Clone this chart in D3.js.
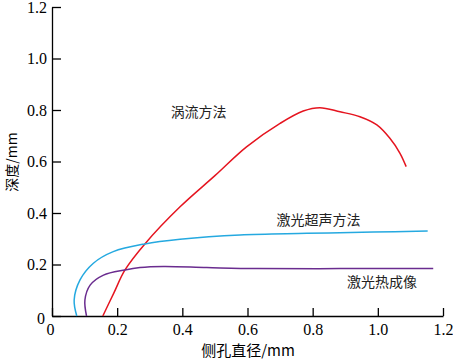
<html>
<head>
    <script src="https://d3js.org/d3.v7.min.js"></script>
</head>
<body style="margin:0">
    <svg id="chart" width="453" height="363"></svg>
</body>
<script>
    // curve points: [diameter, depth]
    const eddy = [[0.156,0],[0.19,0.09],[0.224,0.179],[0.285,0.28],[0.393,0.424],
                  [0.5,0.545],[0.597,0.657],[0.70,0.748],[0.771,0.796],[0.822,0.809],
                  [0.884,0.793],[0.945,0.774],[0.997,0.742],[1.037,0.69],[1.068,0.632],[1.087,0.58]]
    const ultrasonic = [[0.076,0],[0.068,0.062],[0.086,0.14],[0.127,0.205],[0.188,0.25],
                        [0.285,0.28],[0.393,0.298],[0.577,0.315],[0.782,0.321],[0.986,0.326],[1.153,0.330]]
    const thermal = [[0.106,0],[0.101,0.062],[0.117,0.12],[0.158,0.159],[0.224,0.179],
                     [0.27,0.188],[0.342,0.192],[0.475,0.188],[0.628,0.184],[0.884,0.184],[1.17,0.184]]
    const xTicks = [0,0.2,0.4,0.6,0.8,1.0,1.2]
    const yTicks = [0,0.2,0.4,0.6,0.8,1.0,1.2]
    const seriesNames = ['涡流方法','激光超声方法','激光热成像']

    const serif = "'Liberation Serif', 'DejaVu Serif', serif"
    const cjk = "'Noto Sans CJK SC', sans-serif"

    let svg = d3.select('svg#chart')

    let x = d3.scaleLinear().domain([0,1.2]).range([52, 443])
    let y = d3.scaleLinear().domain([0,1.2]).range([316, 7])

    const fmt = d => d === 0 ? '0' : d3.format('.1f')(d)

    let xaxis = svg.append('g')
        .attr('transform', `translate(0,${y(0)})`)
        .call(d3.axisBottom(x).tickValues(xTicks).tickFormat(fmt).tickSizeInner(-8).tickSizeOuter(0).tickPadding(8))
    let yaxis = svg.append('g')
        .attr('transform', `translate(${x(0)},0)`)
        .call(d3.axisLeft(y).tickValues(yTicks).tickFormat(fmt).tickSizeInner(-9).tickSizeOuter(0).tickPadding(5))

    svg.selectAll('g').attr('font-family', serif)
    svg.selectAll('.domain, .tick line').attr('stroke','black').attr('stroke-width',1.3)
    svg.selectAll('.tick text')
        .style('font-family', serif)
        .attr('font-size','16px')
        .attr('fill','black')
    xaxis.selectAll('.tick text').filter(d => d === 0).attr('dx', -2)
    yaxis.selectAll('.tick text').filter(d => d === 0).attr('dx', -2).attr('dy', '0.45em')

    let line = d3.line().x(d => x(d[0])).y(d => y(d[1])).curve(d3.curveCatmullRom.alpha(0.5))

    const series = [
        {name: seriesNames[0], data: eddy, color: '#e5141f', lx: 0.45, ly: 0.773},
        {name: seriesNames[1], data: ultrasonic, color: '#25a9e0', lx: 0.818, ly: 0.353},
        {name: seriesNames[2], data: thermal, color: '#6a2c8f', lx: 1.013, ly: 0.113}
    ]
    svg.selectAll('path.curve')
        .data(series)
        .join('path')
        .attr('class','curve')
        .attr('d', d => line(d.data))
        .attr('fill','none')
        .attr('stroke', d => d.color)
        .attr('stroke-width', 1.5)

    svg.selectAll('text.lbl')
        .data(series)
        .join('text')
        .attr('class','lbl')
        .style('font-family', cjk)
        .attr('x', d => x(d.lx))
        .attr('y', d => y(d.ly))
        .attr('text-anchor','middle')
        .attr('font-size','14px')
        .attr('fill','#222')
        .text(d => d.name)

    svg.append('text')
        .style('font-family', cjk)
        .attr('x', 248).attr('y', 356)
        .attr('text-anchor','middle')
        .attr('font-size','15px')
        .text('侧孔直径/mm')

    svg.append('text')
        .style('font-family', cjk)
        .attr('transform', 'translate(17,162) rotate(-90)')
        .attr('text-anchor','middle')
        .attr('font-size','14px')
        .text('深度/mm')
</script>
</html>
